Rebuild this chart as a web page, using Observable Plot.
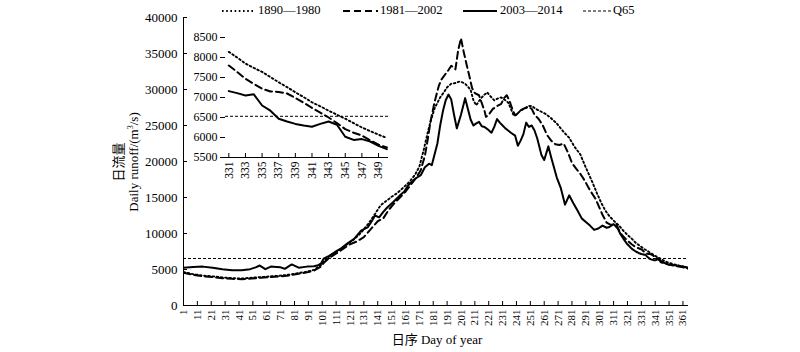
<!DOCTYPE html>
<html><head><meta charset="utf-8">
<script src="https://cdn.jsdelivr.net/npm/d3@7"></script>
<script src="https://cdn.jsdelivr.net/npm/@observablehq/plot@0.6"></script>
<style>
body{margin:0;background:#fff;}
#wrap{position:relative;width:800px;height:352px;overflow:hidden;font-family:"Liberation Serif","Noto Sans CJK SC",serif;color:#000;}
#wrap svg{position:absolute;left:0;top:0;}
.abs{position:absolute;white-space:nowrap;}
</style></head><body><div id="wrap"></div>
<script>
// ---- data ----
const seriesNames = ["1890—1980", "1981—2002", "2003—2014"];
const q65 = 6530;

const days1890 = [1,8,15,22,29,36,43,50,57,64,71,78,84,90,95,100,102,106,110,114,119,124,129,134,139,143,147,151,155,159,164,168,171,174,177,179,182,186,189,191,194,197,200,202,204,206,208,210,212,214,216,218,220,222,225,228,230,233,235,237,239,241,244,247,250,252,255,258,262,266,270,275,279,283,287,290,293,296,299,302,305,308,312,315,318,321,324,327,329,331,332,333,334,335,336,337,338,339,340,341,342,343,344,345,346,347,348,349,350,355,360,365];
const flow1890 = [4650,4350,4150,4050,3900,3800,3750,3850,3950,4050,4150,4300,4500,4700,4950,5600,6100,6800,7350,7800,8500,9200,10100,11300,12700,13900,14500,15100,15600,16300,17200,18200,19300,21500,24000,25500,27400,28900,29700,30300,30800,30900,31100,31000,30800,30400,29900,28500,27800,28400,28900,29300,29600,29100,28500,28800,28900,28500,28200,27300,26400,26500,27100,27400,27700,27700,27300,27000,26600,26000,25300,24100,23300,22000,21000,19600,18300,17000,15600,14300,13200,12400,11600,11100,10400,9800,9300,8700,8420,8140,8000,7850,7740,7640,7510,7380,7260,7130,7010,6880,6780,6670,6570,6470,6360,6250,6160,6070,5990,5700,5450,5150];

const days1981 = [1,8,15,22,29,36,43,50,57,64,71,78,84,90,95,100,102,106,110,114,117,121,126,131,136,141,145,149,153,157,161,165,169,172,175,177,179,182,185,187,190,192,194,196,197,199,201,203,205,207,209,211,214,216,218,219,221,224,227,230,232,234,236,238,240,242,244,247,250,252,254,257,260,263,266,269,272,275,278,281,284,287,290,294,298,301,303,306,309,313,316,320,324,327,329,331,332,333,334,335,336,337,338,339,340,341,342,343,344,345,346,347,348,349,350,355,360,365];
const flow1981 = [4550,4250,4050,3950,3800,3700,3650,3750,3850,3950,4050,4200,4400,4600,4850,5400,5900,6600,7100,7600,8000,8500,8900,9500,10600,11700,12100,13300,14200,15000,15800,16800,17800,18800,20800,23000,25500,28300,30500,31400,32200,32700,33300,33000,32800,35500,37100,35200,33500,31900,30200,29500,29200,28100,27000,26200,26500,27300,27700,28000,28800,29200,28400,27300,26400,26700,27100,27400,27600,27300,26500,25900,25000,23700,22900,22400,22300,22500,21300,19800,19000,18300,17400,16000,14800,13500,12600,11500,11200,11300,10000,9200,8500,8100,7950,7800,7640,7470,7340,7220,7150,7140,7100,6990,6870,6740,6620,6500,6360,6210,6120,6050,5930,5820,5750,5500,5350,5100];

const days2003 = [1,8,15,22,29,36,43,49,53,56,60,64,68,71,74,79,84,90,95,98,100,102,106,110,114,119,124,129,134,137,139,142,145,148,152,157,160,163,168,172,175,178,180,182,184,186,188,190,192,194,196,198,201,204,206,208,210,212,214,216,218,220,223,225,227,229,231,233,235,237,240,242,244,246,248,250,252,254,256,259,261,264,266,268,270,273,276,279,282,285,288,291,294,297,300,303,306,308,311,314,316,318,321,324,327,329,331,332,333,334,335,336,337,338,339,340,341,342,343,344,345,346,347,348,349,350,355,360,365];
const flow2003 = [5250,5350,5400,5250,5050,4900,4900,5050,5300,5550,5050,5400,5350,5300,5100,5700,5250,5400,5450,5600,5800,6500,6900,7400,7850,8600,9250,10400,10900,11800,12500,12250,13000,13650,14350,15300,15800,16700,17600,18100,19200,19700,19500,21000,22500,25000,27000,28500,29300,28600,26500,24600,26500,28800,27300,25800,25000,25300,25500,24900,24800,24500,24000,24800,25900,25400,25000,24600,24300,24000,23600,22200,22900,23800,25400,24800,25000,24300,23200,20900,20200,22100,20600,19200,17800,16300,14000,15300,14200,13200,12100,11600,11100,10500,10700,11100,10800,10900,11300,10700,9900,9300,8500,7900,7500,7300,7160,7110,7050,7080,6800,6670,6470,6400,6340,6300,6270,6340,6400,6320,6020,5940,5960,5900,5790,5710,5600,5450,5250];

const xTicks = d3.range(1, 362, 10);
const yTicks = d3.range(0, 40001, 5000);
const insetXTicks = d3.range(331, 350, 2);
const insetYTicks = d3.range(5500, 8501, 500);

// ---- build table ----
const rows = [];
[[seriesNames[0], days1890, flow1890], [seriesNames[1], days1981, flow1981], [seriesNames[2], days2003, flow2003]]
  .forEach(([s, ds, vs]) => ds.forEach((d, i) => rows.push({series: s, day: d, value: vs[i]})));

const styles = {
  "1890—1980": {strokeDasharray: "1.6 2.6", strokeWidth: 1.9},
  "1981—2002": {strokeDasharray: "7 4", strokeWidth: 2},
  "2003—2014": {strokeDasharray: null, strokeWidth: 2}
};
const FONT = "'Liberation Serif','Noto Sans CJK SC',serif";

function lineMarks(data) {
  return seriesNames.map(s => Plot.line(data.filter(r => r.series === s), {
    x: "day", y: "value", stroke: "black", strokeLinejoin: "round",
    strokeWidth: styles[s].strokeWidth, strokeDasharray: styles[s].strokeDasharray, clip: true
  }));
}

const wrap = document.getElementById("wrap");

const main = Plot.plot({
  width: 800, height: 352,
  marginLeft: 183, marginRight: 112, marginTop: 17, marginBottom: 47,
  style: {fontFamily: FONT, background: "transparent", color: "black"},
  x: {domain: [1, 365]},
  y: {domain: [0, 40000]},
  marks: [
    Plot.ruleY([q65], {strokeDasharray: "3 2", strokeWidth: 1}),
    ...lineMarks(rows),
    Plot.ruleY([0], {strokeWidth: 1}),
    Plot.ruleX([1], {strokeWidth: 1}),
    Plot.axisY({ticks: yTicks, tickSize: 0, tickPadding: 6, tickFormat: d3.format("d"), fontSize: 13, label: null}),
    Plot.axisY({ticks: yTicks, tickSize: -4, text: null, label: null}),
    Plot.axisX({ticks: xTicks, tickSize: 0, tickPadding: 4, tickRotate: -90, tickFormat: d3.format("d"), fontSize: 11, label: null}),
    Plot.axisX({ticks: xTicks, tickSize: -4, text: null, label: null})
  ]
});
wrap.appendChild(main);

const insetRows = rows.filter(r => r.day >= 331 && r.day <= 350);
const inset = Plot.plot({
  width: 400, height: 180,
  marginLeft: 225, marginRight: 12, marginTop: 37, marginBottom: 23,
  style: {fontFamily: FONT, background: "transparent", color: "black"},
  x: {domain: [330.6, 350.2]},
  y: {domain: [5500, 8500]},
  marks: [
    Plot.ruleY([q65], {strokeDasharray: "3 2", strokeWidth: 1}),
    ...lineMarks(insetRows),
    Plot.ruleY([5500], {strokeWidth: 1}),
    Plot.axisY({ticks: insetYTicks, tickSize: 5, tickPadding: 3, tickFormat: d3.format("d"), fontSize: 12, label: null}),
    Plot.axisX({ticks: insetXTicks, tickSize: 0, tickPadding: 4, tickRotate: -90, tickFormat: d3.format("d"), fontSize: 11.5, label: null}),
    Plot.axisX({ticks: insetXTicks, tickSize: -4, text: null, label: null})
  ]
});
wrap.appendChild(inset);

// ---- axis titles ----
const yt = document.createElement("div");
yt.className = "abs";
yt.style.cssText = "left:26px;top:147px;width:200px;height:30px;line-height:15px;font-size:13px;text-align:center;transform:rotate(-90deg);transform-origin:100px 15px;";
yt.innerHTML = "日流量<br>Daily runoff/(m<sup style='font-size:8px;vertical-align:5px;line-height:0'>3</sup>/s)";
wrap.appendChild(yt);

const xt = document.createElement("div");
xt.className = "abs";
xt.style.cssText = "left:337px;top:329px;width:200px;text-align:center;font-size:13px;";
xt.textContent = "日序 Day of year";
wrap.appendChild(xt);

// ---- legend ----
const legendItems = [
  {label: seriesNames[0], x: 222, w: 33, dash: "1.6 2.6", sw: 1.9, tx: 258},
  {label: seriesNames[1], x: 343, w: 35, dash: "7 4", sw: 2, tx: 380},
  {label: seriesNames[2], x: 463, w: 34, dash: null, sw: 2, tx: 500},
  {label: "Q65", x: 583, w: 28, dash: "3 2", sw: 1, tx: 613}
];
legendItems.forEach(it => {
  const s = document.createElementNS("http://www.w3.org/2000/svg", "svg");
  s.setAttribute("width", it.w); s.setAttribute("height", 6);
  s.style.cssText = `left:${it.x}px;top:8px;`;
  const l = document.createElementNS("http://www.w3.org/2000/svg", "line");
  l.setAttribute("x1", 0); l.setAttribute("x2", it.w); l.setAttribute("y1", 3); l.setAttribute("y2", 3);
  l.setAttribute("stroke", "black"); l.setAttribute("stroke-width", it.sw);
  if (it.dash) l.setAttribute("stroke-dasharray", it.dash);
  s.appendChild(l);
  wrap.appendChild(s);
  const t = document.createElement("div");
  t.className = "abs";
  t.style.cssText = `left:${it.tx}px;top:3px;font-size:12.5px;line-height:15px;`;
  t.textContent = it.label;
  wrap.appendChild(t);
});
</script></body></html>
